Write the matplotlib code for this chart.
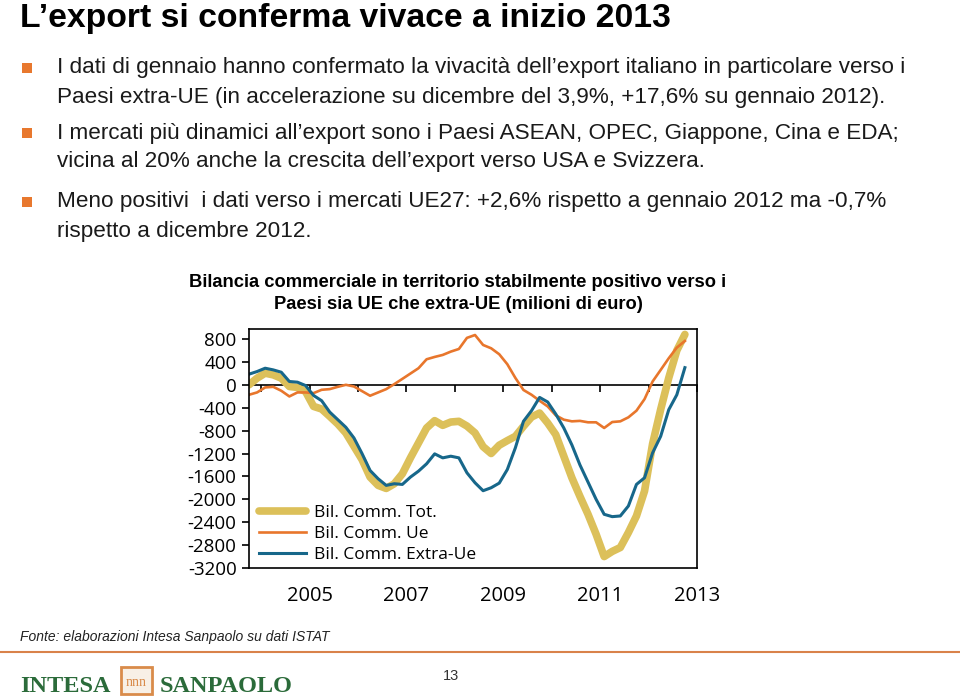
import numpy as np
import pandas as pd
import matplotlib
matplotlib.use("Agg")
import matplotlib.pyplot as plt
from matplotlib.patches import Rectangle

W, H = 960, 697

# bi-monthly observations, Oct 2003 - Oct 2012 (milioni di euro)
dates = pd.date_range("2003-10-01", periods=55, freq="2MS")

tot = [0, 116, 203, 174, 116, -29, -46, -116, -377, -423,
       -551, -684, -841, -1073, -1305, -1612, -1757, -1810, -1728, -1554,
       -1276, -1015, -754, -626, -708, -650, -638, -720, -841, -1080,
       -1200, -1055, -975, -900, -725, -563, -493, -667, -870, -1247,
       -1624, -1950, -2262, -2610, -3000, -2910, -2842, -2581, -2291, -1856,
       -1030, -430, 120, 600, 880]

ue = [-174, -133, -46, -35, -104, -203, -133, -133, -145, -87,
      -75, -35, 0, -29, -110, -191, -133, -75, 12, 104,
      197, 290, 446, 487, 522, 580, 626, 820, 870, 696,
      638, 534, 360, 120, -90, -174, -278, -377, -533, -609,
      -638, -630, -655, -655, -754, -650, -638, -568, -452, -250,
      58, 260, 464, 650, 766]

extra_ue = [186, 232, 290, 261, 220, 58, 46, -12, -186, -278,
            -476, -609, -742, -928, -1200, -1496, -1641, -1757, -1728, -1740,
            -1612, -1508, -1380, -1206, -1276, -1247, -1276, -1537, -1711, -1850,
            -1798, -1717, -1480, -1100, -638, -452, -220, -300, -510, -754,
            -1050, -1400, -1700, -2000, -2262, -2303, -2291, -2117, -1740, -1624,
            -1189, -899, -435, -174, 300]

series_labels = ["Bil. Comm. Tot.", "Bil. Comm. Ue", "Bil. Comm. Extra-Ue"]
series_colors = ["#DCC05A", "#E8762C", "#17678A"]
y_ticks = list(range(-3200, 801, 400))
year_ticks = list(range(2004, 2014))
year_labels = [2005, 2007, 2009, 2011, 2013]

title = "L\u2019export si conferma vivace a inizio 2013"
bullets = [
    ["I dati di gennaio hanno confermato la vivacit\u00e0 dell\u2019export italiano in particolare verso i",
     "Paesi extra-UE (in accelerazione su dicembre del 3,9%, +17,6% su gennaio 2012)."],
    ["I mercati pi\u00f9 dinamici all\u2019export sono i Paesi ASEAN, OPEC, Giappone, Cina e EDA;",
     "vicina al 20% anche la crescita dell\u2019export verso USA e Svizzera."],
    ["Meno positivi  i dati verso i mercati UE27: +2,6% rispetto a gennaio 2012 ma -0,7%",
     "rispetto a dicembre 2012."],
]
chart_title = ("Bilancia commerciale in territorio stabilmente positivo verso i\n"
               "Paesi sia UE che extra-UE (milioni di euro)")
source = "Fonte: elaborazioni Intesa Sanpaolo su dati ISTAT"

sans = ["Liberation Sans", "DejaVu Sans"]
serif = ["Liberation Serif", "DejaVu Serif"]
chart_font = ["Open Sans", "DejaVu Sans"]


def fx(x):
    return x / W


def fy(y):
    return 1 - y / H


years = dates.year + (dates.month - 1) / 12

fig = plt.figure(figsize=(W / 100, H / 100), dpi=100)

# slide header and bullets
fig.text(fx(20), fy(27.5), title, family=sans, weight="bold", fontsize=24.3,
         va="baseline", ha="left", color="black")

line_y = [68, 97, 133, 162, 202, 231]
i = 0
for b in bullets:
    for j, line in enumerate(b):
        if j == 0:
            fig.patches.append(Rectangle((fx(22), fy(line_y[i] + 5)), 10 / W, 10 / H,
                                         transform=fig.transFigure,
                                         facecolor="#E8782E", edgecolor="none"))
        fig.text(fx(57), fy(line_y[i]), line, family=sans, fontsize=16.2,
                 va="center", ha="left", color="#1a1a1a")
        i += 1

fig.text(fx(458), fy(293.5), chart_title, family=sans,
         weight="bold", fontsize=13.2, ha="center", va="center",
         linespacing=1.4, color="black")

# chart
ax = fig.add_axes([fx(249), fy(568), 448 / W, 239 / H])
ymin, ymax = -3200, 975
ax.plot(years, tot, color=series_colors[0], lw=5.5, solid_capstyle="round",
        solid_joinstyle="round", label=series_labels[0])
ax.plot(years, ue, color=series_colors[1], lw=1.9, label=series_labels[1])
ax.plot(years, extra_ue, color=series_colors[2], lw=2.2, label=series_labels[2])

ax.set_xlim(2003.75, 2013.0)
ax.set_ylim(ymin, ymax)
ax.set_yticks(y_ticks)
ax.set_yticklabels([str(v) for v in y_ticks], family=chart_font)
ax.set_xticks(year_labels)
ax.set_xticklabels([str(v) for v in year_labels], family=chart_font)
ax.tick_params(axis="x", length=0, pad=13, labelsize=14.5)
ax.tick_params(axis="y", direction="out", length=5, width=1.2, pad=4,
               labelsize=13.5)
for s in ax.spines.values():
    s.set_linewidth(1.2)

# zero line with yearly tick marks
sec = ax.secondary_xaxis((0 - ymin) / (ymax - ymin))
sec.set_alignment("bottom")
sec.set_xticks(year_ticks)
sec.set_xticklabels([])
sec.tick_params(direction="out", length=5, width=1.2)
sec.spines["bottom"].set_linewidth(1.2)

leg = ax.legend(loc="lower left", bbox_to_anchor=(-0.012, -0.045), frameon=False,
                handlelength=2.7, handletextpad=0.45, labelspacing=0.28,
                prop={"family": chart_font, "size": 12.5})

# footer
fig.text(fx(20), fy(637), source, family=sans,
         style="italic", fontsize=10, va="center", ha="left", color="#222222")
fig.lines.append(plt.Line2D([0, 1], [fy(652), fy(652)], transform=fig.transFigure,
                            color="#D9824A", lw=1.5))

logo_green = "#2B6B3A"
fig.text(fx(20), fy(692), "INTESA", family=serif,
         weight="bold", fontsize=17.5, color=logo_green, va="baseline", ha="left")
fig.text(fx(160), fy(692), "SANPAOLO", family=serif,
         weight="bold", fontsize=17.5, color=logo_green, va="baseline", ha="left")
fig.patches.append(Rectangle((fx(121), fy(694)), 31 / W, 27 / H,
                             transform=fig.transFigure, facecolor="#F8F0E6",
                             edgecolor="#D98B4A", lw=2))
fig.text(fx(136.5), fy(682), "nnn", family=serif,
         fontsize=10, color="#D98B4A", ha="center", va="center")
fig.text(fx(451), fy(676), "13", family=sans,
         fontsize=10.5, color="#333333", ha="center", va="center")

fig.savefig("out.png", dpi=100)
